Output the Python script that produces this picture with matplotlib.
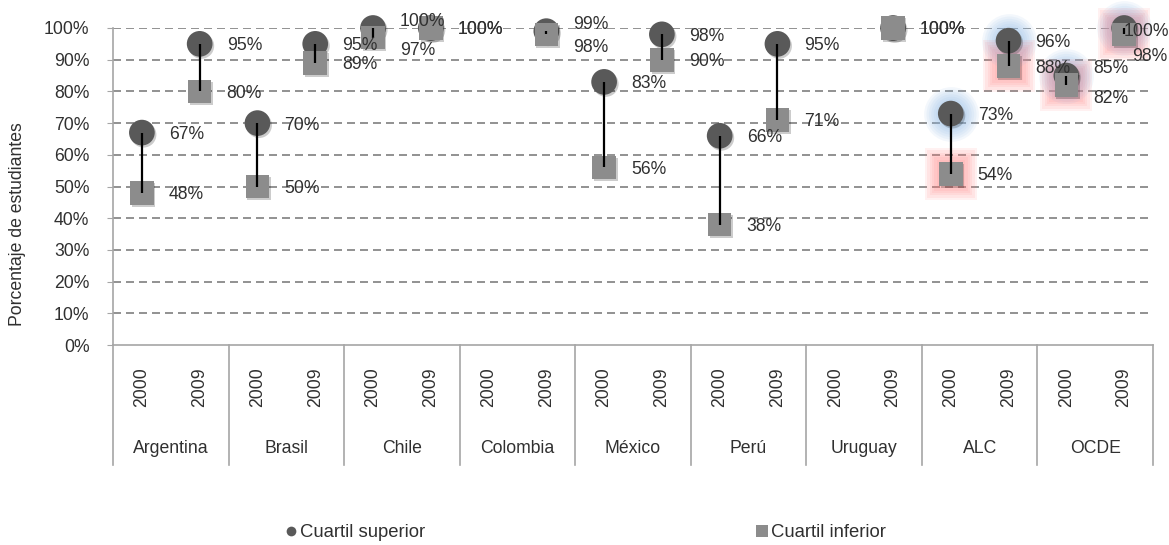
import numpy as np
import matplotlib
matplotlib.use("Agg")
import matplotlib.pyplot as plt
import matplotlib.patheffects as pe
from matplotlib.lines import Line2D

plt.rcParams.update({"font.family": ["Liberation Sans", "DejaVu Sans"], "font.size": 12.7,
                     "text.color": "#303030", "axes.labelcolor": "#303030",
                     "xtick.color": "#303030", "ytick.color": "#303030"})

countries = ["Argentina", "Brasil", "Chile", "Colombia", "México", "Perú", "Uruguay", "ALC", "OCDE"]
years = ["2000", "2009"]
# percentages, alternating 2000 / 2009 per country (nan = no data)
cuartil_superior = [67, 95, 70, 95, 100, 100, np.nan, 99, 83, 98, 66, 95, np.nan, 100, 73, 96, 85, 100]
cuartil_inferior = [48, 80, 50, 89, 97, 100, np.nan, 98, 56, 90, 38, 71, np.nan, 100, 54, 88, 82, 98]
highlight = ["ALC", "OCDE"]

C_SUP = "#595959"
C_INF = "#8c8c8c"
GRID = "#a6a6a6"

sup = np.array(cuartil_superior) / 100
inf = np.array(cuartil_inferior) / 100
x = np.arange(len(sup))

fig = plt.figure(figsize=(11.69, 5.45), dpi=100)
ax = fig.add_axes([113 / 1169, 200 / 545, 1040 / 1169, 317 / 545])

for y in np.arange(0.1, 1.01, 0.1):
    ax.axhline(y, color="#7f7f7f", lw=1.2, ls=(0, (4.8, 3)), zorder=1)

shadow = [pe.SimplePatchShadow(offset=(1.2, -1.5), shadow_rgbFace="k", alpha=0.2), pe.Normal()]

# glow on highlighted groups
for name in highlight:
    i = countries.index(name)
    for j in (2 * i, 2 * i + 1):
        for k in range(7):
            ax.plot(j, sup[j], "o", ms=19 + 3.4 * k, color="#8db8e6", alpha=0.1,
                    mew=0, clip_on=False, zorder=2)
            ax.plot(j, inf[j], "s", ms=17 + 3.4 * k, color="#ff7a7a", alpha=0.1,
                    mew=0, clip_on=False, zorder=2)

ax.plot(x, sup, "o", ms=18.5, color=C_SUP, mew=0, ls="none", clip_on=False,
        zorder=3, path_effects=shadow)
ax.plot(x, inf, "s", ms=17, color=C_INF, mew=0, ls="none", clip_on=False,
        zorder=3.5, path_effects=shadow)
ax.vlines(x, inf, sup, color="black", lw=1.6, zorder=4)

last = len(x) - 1
for j in x:
    if np.isnan(sup[j]):
        continue
    d = sup[j] - inf[j]
    dy_s, dy_i = (-9, 11) if 0 < d < 0.05 else (0, 0)
    dx_s, dx_i = 27, 27
    if j == last:  # no room on the right: labels pushed over the marker
        dx_s, dx_i, dy_s, dy_i = 0, 8, 1, 20
    ax.annotate(f"{cuartil_superior[j]:.0f}%", (j, sup[j]), xytext=(dx_s, -dy_s - 2),
                textcoords="offset pixels", ha="left", va="center", zorder=5)
    ax.annotate(f"{cuartil_inferior[j]:.0f}%", (j, inf[j]), xytext=(dx_i, -dy_i - 2),
                textcoords="offset pixels", ha="left", va="center", zorder=5)

ax.set_xlim(-0.5, len(x) - 0.5)
ax.set_ylim(0, 1)
ax.set_yticks(np.arange(0, 1.01, 0.1))
ax.set_yticklabels([f"{v}%" for v in range(0, 101, 10)])
ax.set_xticks([])
ax.tick_params(axis="y", length=4, color=GRID, pad=13)
for s in ["top", "right"]:
    ax.spines[s].set_visible(False)
for s in ["left", "bottom"]:
    ax.spines[s].set_color(GRID)
    ax.spines[s].set_linewidth(1.2)

# category table below the axis
tr = ax.get_xaxis_transform()
for b in np.arange(-0.5, len(x), 2):
    ax.plot([b, b], [0, -0.379], transform=tr, clip_on=False, color=GRID, lw=1.2)
for j in x:
    ax.text(j, -0.133, years[j % 2], rotation=90, transform=tr, ha="center", va="center")
for i, name in enumerate(countries):
    ax.text(2 * i + 0.5, -0.328, name, transform=tr, ha="center", va="center")

fig.text(18 / 1169, 1 - 224 / 545, "Porcentaje de estudiantes", rotation=90,
         ha="center", va="center", color="#303030")

handles = [Line2D([], [], marker="o", ls="none", color=C_SUP, ms=7, mew=0),
           Line2D([], [], marker="s", ls="none", color=C_INF, ms=8, mew=0)]
fig.legend(handles, ["Cuartil superior", "Cuartil inferior"], loc="lower center",
           bbox_to_anchor=(0.5005, -0.017), ncol=2, frameon=False, fontsize=13.3,
           columnspacing=17.9, handletextpad=0.15, handlelength=0.7, borderpad=0.2)

fig.savefig("out.png", dpi=100)
